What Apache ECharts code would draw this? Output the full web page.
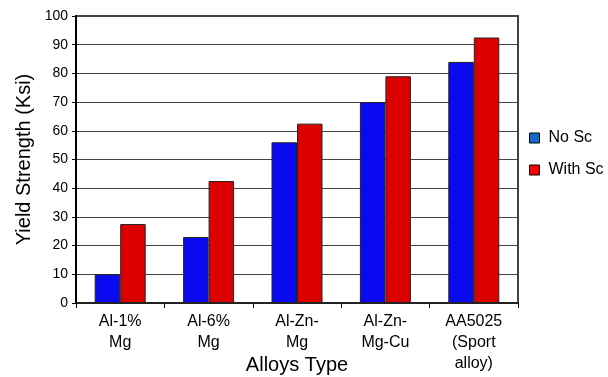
<!DOCTYPE html>
<html><head><meta charset="utf-8">
<script src="https://cdn.jsdelivr.net/npm/echarts@6/dist/echarts.min.js"></script>
<style>html,body{margin:0;padding:0;background:#fff;}#c{width:608px;height:377px;}</style>
</head><body><div id="c"></div>
<script>
var categories = ['Al-1%\nMg', 'Al-6%\nMg', 'Al-Zn-\nMg', 'Al-Zn-\nMg-Cu', 'AA5025\n(Sport\nalloy)'];
var noSc = [10, 23, 56, 70, 84];
var withSc = [27.5, 42.5, 62.5, 79, 92.5];
var yTicks = [0, 10, 20, 30, 40, 50, 60, 70, 80, 90, 100];
var seriesNames = ['No Sc', 'With Sc'];

var F = 'Liberation Sans, Arial, sans-serif';
var chart = echarts.init(document.getElementById('c'), null, {renderer: 'canvas'});
chart.setOption({
  animation: false,
  backgroundColor: '#fff',
  grid: {left: 76, right: 90, top: 16, bottom: 74, containLabel: false, outerBoundsMode: 'none',
         show: true, borderColor: '#444', borderWidth: 2, backgroundColor: 'transparent'},
  legend: {
    orient: 'vertical', left: 524, top: 125,
    itemWidth: 10, itemHeight: 10, itemGap: 16,
    icon: 'rect',
    textStyle: {fontFamily: F, fontSize: 16, color: '#000', padding: [0, 0, 0, 4]},
    data: [
      {name: seriesNames[0], itemStyle: {color: '#1468c8', borderColor: '#000', borderWidth: 1}},
      {name: seriesNames[1], itemStyle: {color: '#ff0000', borderColor: '#000', borderWidth: 1}}
    ]
  },
  xAxis: {
    type: 'category', data: categories,
    name: 'Alloys Type', nameLocation: 'middle', nameGap: 52, nameMoveOverlap: false,
    nameTextStyle: {fontFamily: F, fontSize: 20, color: '#000'},
    axisLine: {lineStyle: {color: '#222', width: 2}},
    axisTick: {show: true, length: 5, lineStyle: {color: '#000', width: 1}},
    axisLabel: {fontFamily: F, fontSize: 16, color: '#000', margin: 8, lineHeight: 21, interval: 0}
  },
  yAxis: {
    type: 'value', min: 0, max: 100, interval: 10,
    name: 'Yield Strength (Ksi)', nameLocation: 'middle', nameGap: 42, nameRotate: 90,
    nameMoveOverlap: false,
    nameTextStyle: {fontFamily: F, fontSize: 20, color: '#000'},
    axisLine: {show: true, lineStyle: {color: '#000', width: 2}},
    axisTick: {show: true, length: 4, lineStyle: {color: '#000'}},
    axisLabel: {fontFamily: F, fontSize: 14, color: '#000', margin: 8,
      formatter: function (v) { return yTicks.indexOf(v) >= 0 ? String(v) : ''; }},
    splitLine: {show: true, lineStyle: {color: '#444', width: 1}}
  },
  series: [
    {name: seriesNames[0], type: 'bar', data: noSc, barWidth: 25.5, barGap: '0%',
     itemStyle: {color: '#0a0af0', borderColor: '#222', borderWidth: 1}},
    {name: seriesNames[1], type: 'bar', data: withSc, barWidth: 25.5, barGap: '0%',
     itemStyle: {color: '#dd0000', borderColor: '#222', borderWidth: 1}}
  ]
});
</script></body></html>
